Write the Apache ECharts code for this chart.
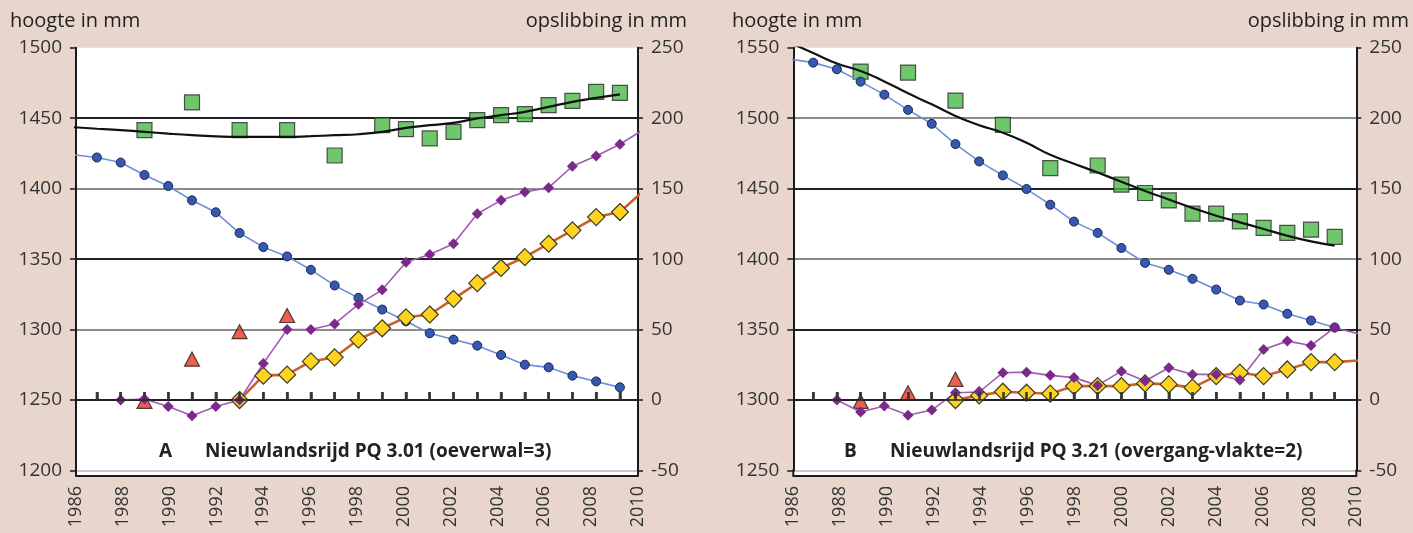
<!DOCTYPE html>
<html><head><meta charset="utf-8">
<script src="https://cdn.jsdelivr.net/npm/echarts@6/dist/echarts.min.js"></script>
<style>html,body{margin:0;padding:0;background:#e8d5cc;}#c{width:1413px;height:533px;}</style>
</head><body><div id="c"></div>
<script>
// ---------- data ----------
const years = [1986,1987,1988,1989,1990,1991,1992,1993,1994,1995,1996,1997,1998,1999,2000,2001,2002,2003,2004,2005,2006,2007,2008,2009,2010];
const yearTicks = [1987,1988,1989,1990,1991,1992,1993,1994,1995,1996,1997,1998,1999,2000,2001,2002,2003,2004,2005,2006,2007,2008,2009];

// Panel A: Nieuwlandsrijd PQ 3.01 (oeverwal=3)
const A_hoogteBlue = [1424,1422.1,1418.5,1409.7,1401.9,1391.7,1383.2,1368.5,1358.5,1351.9,1342.4,1331.3,1322.5,1314.2,1305.9,1297.4,1292.9,1288.6,1282,1275.1,1273.2,1267.3,1263.2,1259,null];
const A_hoogteGreen = [1429.6,null,null,1441.5,null,1461.2,null,1441.5,null,1441.5,null,1423.5,null,1445,1442.2,1435.6,1440.3,1448.6,1452.1,1452.9,1459.3,1462.3,1468.7,1468,null];
const A_trend = [1443.6,1442.5,1441.5,1440.3,1439,1437.9,1437.1,1436.7,1436.7,1436.7,1437.2,1437.9,1438.6,1440.3,1443.1,1445,1446.7,1449.8,1452.1,1454.5,1458,1461.6,1464.4,1466.9,null];
const A_opslPurple = [null,null,0,0.7,-4.6,-11.2,-4.6,0,26,50,50,54,67.9,78.2,97.8,103.3,110.9,132.2,141.7,147.6,150.7,165.9,173.2,181.5,192];
const A_opslYellow = [null,null,null,null,null,null,null,0,17.3,18,27.4,30.3,42.9,50.9,58.7,60.7,71.8,82.9,93.7,101.4,110.9,120.4,129.8,133.4,148.6];
const A_opslRed = [null,null,null,-1,null,29,null,48.5,null,60,null,null,null,null,null,null,null,null,null,null,null,null,null,null,null];

// Panel B: Nieuwlandsrijd PQ 3.21 (overgang-vlakte=2)
const B_hoogteBlue = [1542,1539.4,1534.7,1525.9,1516.7,1505.9,1496,1481.6,1469.3,1459.4,1449.7,1438.6,1426.6,1418.6,1407.9,1397.3,1392.4,1386,1378.4,1370.6,1367.8,1361.2,1356.4,1351.5,null];
const B_hoogteGreen = [1546,null,null,1533,null,1532.3,null,1512.5,null,1495.3,null,1464.6,null,1466.4,1452.8,1446.9,1441.6,1432.2,1432.2,1426.8,1422.1,1418.6,1420.9,1415.7,null];
const B_trend = [1553.7,1546.2,1538.8,1533.5,1526.1,1517.6,1509.8,1501.6,1495,1489.7,1482.5,1474,1467.7,1461.4,1454.9,1448.3,1442.3,1436.3,1430.8,1426.1,1421.4,1416.6,1412.6,1409.6,null];
const B_opslPurple = [null,null,0,-8.5,-4.2,-10.8,-7.1,5.2,5.7,19.4,19.8,17.5,15.9,10.4,20.5,13.5,22.9,18.2,18.2,14.2,35.9,41.8,38.7,51.3,47];
const B_opslYellow = [null,null,null,null,null,null,null,0,3.3,5.9,5.2,4.5,9.9,9.9,9.9,11.8,11.1,8.8,17,19.4,17,21.7,26.9,26.9,28.1];
const B_opslRed = [null,null,null,-1,null,5.2,null,14.7,null,null,null,null,null,null,null,null,null,null,null,null,null,null,null,null,null];

const A_title = ['A', 'Nieuwlandsrijd PQ 3.01 (oeverwal=3)'];
const B_title = ['B', 'Nieuwlandsrijd PQ 3.21 (overgang-vlakte=2)'];
const leftAxisName = 'hoogte in mm';
const rightAxisName = 'opslibbing in mm';
const A_hoogteRange = [1200, 1500];
const B_hoogteRange = [1250, 1550];
const opslRange = [-50, 250];

// ---------- helpers ----------
const pairs = vals => years.map((y, i) => [y, vals[i]]).filter(p => p[1] !== null);
const FONT = '"Open Sans", Lato, sans-serif';
const INK = '#222';
const plain = v => String(v);

const panels = [
  {left: 76, width: 562, dataMin: 1986.12, dataMax: 2009.76, hr: A_hoogteRange,
   split: ['#c8c8c8', '#222', '#8c8c8c', '#222', '#8c8c8c', '#222', 'transparent'],
   blue: A_hoogteBlue, green: A_hoogteGreen, trend: A_trend, purple: A_opslPurple, yellow: A_opslYellow, red: A_opslRed,
   title: A_title, titleX: [159, 205], nameL: 10, nameR: 687},
  {left: 793.3, width: 563, dataMin: 1986.16, dataMax: 2009.91, hr: B_hoogteRange,
   split: ['#c8c8c8', '#222', '#222', '#8c8c8c', '#222', '#8c8c8c', 'transparent'],
   blue: B_hoogteBlue, green: B_hoogteGreen, trend: B_trend, purple: B_opslPurple, yellow: B_opslYellow, red: B_opslRed,
   title: B_title, titleX: [844, 890], nameL: 732, nameR: 1409}
];
const TOP = 47.7, H = 422.8, AXB = 476;

const grid = [], xAxis = [], yAxis = [], series = [], graphic = [];
panels.forEach((p, gi) => {
  grid.push({left: p.left, top: TOP, width: p.width, height: H, containLabel: false,
             show: true, backgroundColor: '#fff', borderWidth: 0});
  // label axis
  xAxis.push({gridIndex: gi, type: 'value', min: 1986, max: 2010, interval: 2, position: 'bottom', offset: AXB - TOP - H,
    axisLine: {show: true, onZero: false, lineStyle: {color: '#1a1a1a', width: 2}}, axisTick: {show: false}, splitLine: {show: false},
    axisLabel: {show: true, rotate: 90, margin: 10, fontSize: 18, color: '#333', fontFamily: FONT, formatter: plain}});
  // data axis (yearly ticks on the zero line)
  xAxis.push({gridIndex: gi, type: 'value', min: p.dataMin, max: p.dataMax, interval: 1, position: 'bottom', z: 5,
    axisLine: {show: true, onZero: true, onZeroAxisIndex: gi * 2 + 1, lineStyle: {color: '#222', width: 1.5}},
    axisTick: {show: true, inside: true, length: 8, customValues: yearTicks, lineStyle: {color: '#333', width: 2.5}},
    axisLabel: {show: true, customValues: yearTicks, formatter: () => ''}, splitLine: {show: false}});
  yAxis.push({gridIndex: gi, type: 'value', min: p.hr[0], max: p.hr[1], interval: 50, position: 'left',
    axisLine: {show: true, onZero: false, lineStyle: {color: '#1a1a1a', width: 2}},
    axisTick: {show: true, length: 6, lineStyle: {color: '#1a1a1a', width: 1.5}},
    axisLabel: {margin: 14, fontSize: 19, color: '#333', fontFamily: FONT, padding: [6, 0, 0, 0], formatter: plain},
    splitLine: {show: true, lineStyle: {color: p.split, width: 2}}});
  yAxis.push({gridIndex: gi, type: 'value', min: opslRange[0], max: opslRange[1], interval: 50, position: 'right',
    axisLine: {show: true, onZero: false, lineStyle: {color: '#1a1a1a', width: 2}},
    axisTick: {show: true, length: 5, lineStyle: {color: '#1a1a1a', width: 1.5}},
    axisLabel: {margin: 13, fontSize: 19, color: '#333', fontFamily: FONT, padding: [6, 0, 0, 0], formatter: plain},
    splitLine: {show: false}});
  const xi = gi * 2 + 1, yl = gi * 2, yr = gi * 2 + 1;
  series.push(
    {type: 'scatter', xAxisIndex: xi, yAxisIndex: yr, data: yearTicks.map(y => [y, 0]), symbol: 'rect',
     symbolSize: [2.5, 8], symbolOffset: [0, -4], itemStyle: {color: '#333'}, silent: true, z: 1},
    {type: 'scatter', xAxisIndex: xi, yAxisIndex: yl, data: pairs(p.green), symbol: 'rect', symbolSize: 15,
     itemStyle: {color: '#4cb848', borderColor: '#2b2b2b', borderWidth: 1.2}},
    {type: 'line', xAxisIndex: xi, yAxisIndex: yl, data: pairs(p.trend), smooth: true, showSymbol: false,
     lineStyle: {color: '#111', width: 2.2}},
    {type: 'line', xAxisIndex: xi, yAxisIndex: yl, data: pairs(p.blue), symbol: 'circle', symbolSize: 9,
     itemStyle: {color: '#3558b0', borderColor: '#1b2650', borderWidth: 1}, lineStyle: {color: '#6e8fd8', width: 1.6}},
    {type: 'scatter', xAxisIndex: xi, yAxisIndex: yr, data: pairs(p.red), symbol: 'triangle', symbolSize: [15, 14],
     itemStyle: {color: '#e63a22', borderColor: '#2b1a1a', borderWidth: 1.2}},
    {type: 'line', xAxisIndex: xi, yAxisIndex: yr, data: pairs(p.yellow), symbol: 'diamond', symbolSize: [17, 17],
     itemStyle: {color: '#ffd21f', borderColor: '#3a3a2a', borderWidth: 1.2}, lineStyle: {color: '#c8622a', width: 2.6}},
    {type: 'line', xAxisIndex: xi, yAxisIndex: yr, data: pairs(p.purple), symbol: 'diamond', symbolSize: [11, 11],
     itemStyle: {color: '#7b2a8c'}, lineStyle: {color: '#a05cb5', width: 1.6}}
  );
  const r = p.left + p.width;
  graphic.push(
    {type: 'rect', z: -10, shape: {x: p.left, y: TOP + H, width: p.width, height: AXB - TOP - H}, style: {fill: '#fff'}},
    {type: 'line', z: 10, shape: {x1: p.left, y1: TOP + H - 1, x2: p.left, y2: AXB}, style: {stroke: '#1a1a1a', lineWidth: 2}},
    {type: 'line', z: 10, shape: {x1: r, y1: TOP + H - 1, x2: r, y2: AXB}, style: {stroke: '#1a1a1a', lineWidth: 2}},
    {type: 'text', z: 10, style: {text: leftAxisName, x: p.nameL, y: 21, font: '20px ' + FONT, fill: INK, align: 'left', verticalAlign: 'middle'}},
    {type: 'text', z: 10, style: {text: rightAxisName, x: p.nameR, y: 21, font: '20px ' + FONT, fill: INK, align: 'right', verticalAlign: 'middle'}},
    {type: 'text', z: 10, style: {text: p.title[0], x: p.titleX[0], y: 452, font: 'bold 19px ' + FONT, fill: INK, align: 'left', verticalAlign: 'middle'}},
    {type: 'text', z: 10, style: {text: p.title[1], x: p.titleX[1], y: 452, font: 'bold 19px ' + FONT, fill: INK, align: 'left', verticalAlign: 'middle'}}
  );
});

const chart = echarts.init(document.getElementById('c'), null, {renderer: 'canvas'});
chart.setOption({
  backgroundColor: '#e8d5cc',
  animation: false,
  textStyle: {fontFamily: FONT},
  grid, xAxis, yAxis, series, graphic
});
</script></body></html>
